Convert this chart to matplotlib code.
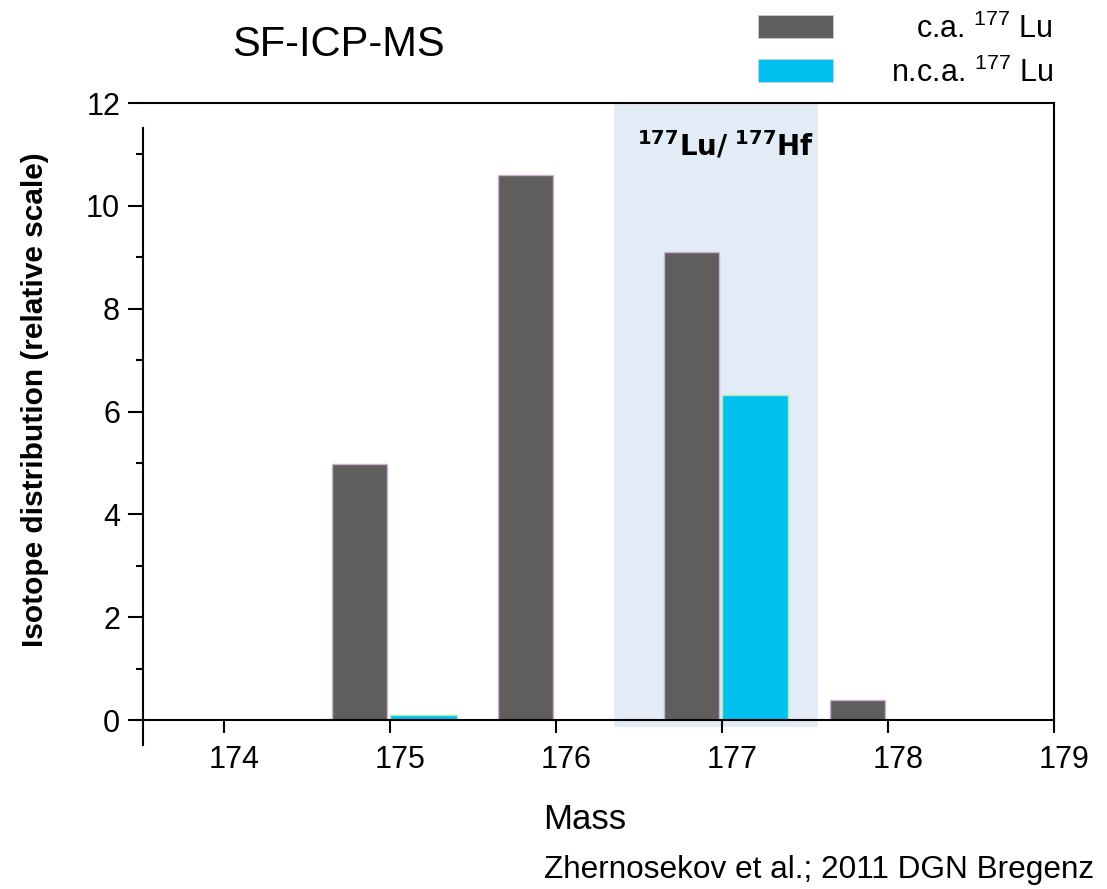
import matplotlib
matplotlib.use("Agg")
import matplotlib.pyplot as plt
import matplotlib.transforms as mtransforms
from matplotlib.patches import Rectangle
from matplotlib.ticker import MultipleLocator

plt.rcParams['font.family'] = ['Liberation Sans', 'DejaVu Sans']
plt.rcParams['mathtext.fontset'] = 'custom'
plt.rcParams['mathtext.rm'] = 'Liberation Sans'
plt.rcParams['mathtext.it'] = 'Liberation Sans:italic'
plt.rcParams['mathtext.bf'] = 'DejaVu Sans:bold'
plt.rcParams['mathtext.sf'] = 'Liberation Sans'

# data
masses = [174, 175, 176, 177, 178]
ca_lu = [0.0, 4.97, 10.6, 9.1, 0.38]
nca_lu = [0.0, 0.10, 0.0, 6.33, 0.0]
labels = ["c.a. $^{177}$ Lu", "n.c.a. $^{177}$ Lu"]
colors = ["#5f5e5c", "#00c0f0"]
xticks = [174, 175, 176, 177, 178, 179]

fig = plt.figure(figsize=(11.07, 8.89), dpi=100)
ax = fig.add_axes([0.1292, 0.1901, 0.8229, 0.6940])

ax.axvspan(176.35, 177.58, ymin=-0.012, ymax=1, color="#e2ecf6", zorder=0,
           clip_on=False, lw=0)

gx = [m - 0.185 for m in masses]
cx = [m + 0.20 for m in masses]
ax.bar(gx, ca_lu, width=0.33, color=colors[0], edgecolor="#cdb0d8", linewidth=1, zorder=2)
ax.bar(cx, nca_lu, width=0.40, color=colors[1], edgecolor="#a8f0b0", linewidth=1, zorder=2)

ax.set_xlim(173.51, 179)
ax.set_ylim(0, 12)
ax.set_xticks(xticks)
ax.set_xticklabels([str(t) for t in xticks])
ax.yaxis.set_major_locator(MultipleLocator(2))
ax.yaxis.set_minor_locator(MultipleLocator(1))
ax.tick_params(axis='x', direction='out', length=9, width=1.5, labelsize=22, pad=9)
ax.tick_params(axis='y', which='major', direction='out', length=10.5, width=1.5, labelsize=22, pad=6)
ax.tick_params(axis='y', which='minor', direction='out', length=5, width=1.5)
ax.yaxis.get_major_ticks()[-1].tick1line.set_color("yellow")

off = mtransforms.ScaledTranslation(10 / 100, 0, fig.dpi_scale_trans)
for lab in ax.get_xticklabels():
    lab.set_transform(lab.get_transform() + off)

for s in ax.spines.values():
    s.set_linewidth(1.5)
ax.spines['left'].set_bounds(-0.49, 11.52)

ax.set_xlabel("Mass", fontsize=25)
ax.xaxis.set_label_coords(0.485, -0.134)
ax.set_ylabel("Isotope distribution (relative scale)", fontsize=21.5, fontweight='bold')
ax.yaxis.set_label_coords(-0.103, 0.519)

ax.text(177.02, 11.18, r"$\mathbf{{}^{177}Lu/\ {}^{177}Hf}$", fontsize=20,
        ha='center', va='center')

fig.text(232 / 1107, 1 - 45 / 889, "SF-ICP-MS", fontsize=30, ha='left', va='center')
fig.text(1094 / 1107, 1 - 870 / 889, "Zhernosekov et al.; 2011 DGN Bregenz",
         fontsize=22.7, ha='right', va='center')

# legend drawn by hand so the labels sit right-aligned
for i, (lab, col) in enumerate(zip(labels, colors)):
    yc = 26.5 + i * 43.5
    fig.patches.append(Rectangle((758 / 1107, 1 - (yc + 11.5) / 889), 75 / 1107, 23 / 889,
                                 transform=fig.transFigure, facecolor=col,
                                 edgecolor="#d0d0d0", lw=0.5))
    fig.text(1053 / 1107, 1 - (yc + 3) / 889, lab, fontsize=22, ha='right', va='center')

plt.savefig("out.png", dpi=100)
